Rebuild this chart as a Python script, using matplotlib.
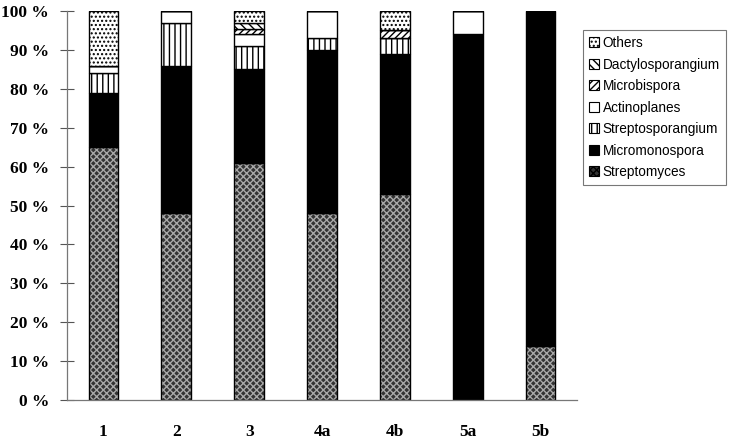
import numpy as np
import matplotlib
matplotlib.use("Agg")
import matplotlib.pyplot as plt
from matplotlib.patches import Patch

# Data (percent of isolates, bottom to top)
sites = ['1', '2', '3', '4a', '4b', '5a', '5b']
genera = ['Streptomyces', 'Micromonospora', 'Streptosporangium', 'Actinoplanes',
          'Microbispora', 'Dactylosporangium', 'Others']
streptomyces = [65, 48, 61, 48, 53, 0, 14]
micromonospora = [14, 38, 24, 42, 36, 94, 86]
streptosporangium = [5, 11, 6, 3, 4, 0, 0]
actinoplanes = [2, 3, 3, 7, 0, 6, 0]
microbispora = [0, 0, 1.5, 0, 2, 0, 0]
dactylosporangium = [0, 0, 1.5, 0, 0, 0, 0]
others = [14, 0, 3, 0, 5, 0, 0]

series = [streptomyces, micromonospora, streptosporangium, actinoplanes,
          microbispora, dactylosporangium, others]

# fill styles: (facecolor, hatch, hatch colour)
styles = [
    ('#333333', 'xxxxx', '#a8a8a8'),
    ('black', None, 'black'),
    ('white', '|||', 'black'),
    ('white', None, 'black'),
    ('white', '/////', 'black'),
    ('white', '\\\\\\\\', 'black'),
    ('white', '....', 'black'),
]

fig = plt.figure(figsize=(7.38, 4.42), dpi=100)
ax = fig.add_axes([0.0908, 0.095, 0.691, 0.88])

x = np.arange(len(sites))
width = 0.41
bottom = np.zeros(len(sites))
handles = []
for name, vals, (fc, hatch, hc) in zip(genera, series, styles):
    vals = np.array(vals, dtype=float)
    # fill + hatch, then black outline on top
    ax.bar(x, vals, width, bottom=bottom, color=fc, hatch=hatch,
           edgecolor=hc, linewidth=0)
    ax.bar(x, vals, width, bottom=bottom, fill=False, edgecolor='black',
           linewidth=1.0)
    handles.append(Patch(facecolor=fc, hatch=hatch, edgecolor='black',
                         linewidth=0.8, label=name))
    bottom += vals

ax.set_xlim(-0.5, len(sites) - 0.5)
ax.set_ylim(0, 100)
ax.set_yticks(range(0, 101, 10))
ax.set_yticklabels(['%d %%' % v for v in range(0, 101, 10)],
                   fontfamily='Liberation Serif', fontweight='bold', fontsize=12.5)
ax.set_xticks(x)
ax.set_xticklabels(sites, fontfamily='Liberation Serif', fontweight='bold',
                   fontsize=12.5)
ax.tick_params(axis='y', direction='inout', length=10, width=0.8,
               color='#555555', pad=8)
ax.tick_params(axis='x', length=0, pad=17)
for s in ['top', 'right']:
    ax.spines[s].set_visible(False)
for s in ['left', 'bottom']:
    ax.spines[s].set_color('#777777')
    ax.spines[s].set_linewidth(0.9)

leg = fig.legend(handles=handles[::-1], loc='upper left',
                 bbox_to_anchor=(0.79, 0.932), frameon=True, fancybox=False,
                 edgecolor='#555555', prop={'family': 'Liberation Sans', 'size': 9.8},
                 handlelength=0.75, handleheight=0.75, handletextpad=0.25,
                 labelspacing=0.55, borderpad=0.45, borderaxespad=0)
leg.get_frame().set_linewidth(0.8)

fig.savefig('out.png', dpi=100)
